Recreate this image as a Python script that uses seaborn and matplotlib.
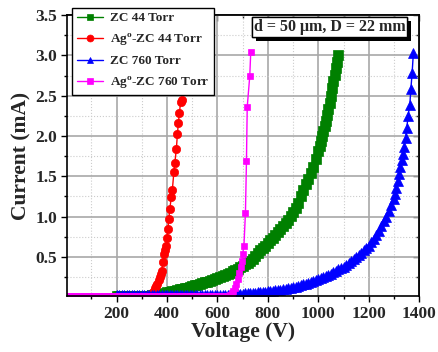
import numpy as np
import pandas as pd
import matplotlib
matplotlib.use("Agg")
import matplotlib.pyplot as plt
import matplotlib.patheffects as pe
from matplotlib.ticker import MultipleLocator
import seaborn as sns

# dados (tensão em V, corrente em mA)
v_zc44 = list(range(200, 1001, 10)) + [1005, 1010, 1015, 1020, 1025, 1030, 1035, 1040,
                                       1045, 1050, 1055, 1060, 1065, 1070, 1074, 1078]
i_zc44 = [0.02, 0.02, 0.02, 0.02, 0.02, 0.02, 0.02, 0.02, 0.02, 0.02, 0.02, 0.02, 0.02, 0.02, 0.025, 0.03,
          0.035, 0.04, 0.045, 0.05, 0.06, 0.067, 0.075, 0.082, 0.09, 0.097,
          0.105, 0.112, 0.12, 0.13, 0.14, 0.147, 0.155, 0.165, 0.175, 0.185,
          0.195, 0.205, 0.215, 0.228, 0.24, 0.252, 0.265, 0.277, 0.29, 0.305,
          0.32, 0.335, 0.35, 0.37, 0.39, 0.41, 0.43, 0.455, 0.48, 0.51,
          0.55, 0.58, 0.61, 0.64, 0.67, 0.705, 0.74, 0.775, 0.81, 0.845,
          0.88, 0.92, 0.96, 1.01, 1.06, 1.11, 1.17, 1.25, 1.33, 1.40,
          1.47, 1.54, 1.62, 1.72, 1.82,
          1.88, 1.94, 2.00, 2.06, 2.12, 2.19, 2.26, 2.33,
          2.41, 2.50, 2.59, 2.68, 2.76, 2.85, 2.92, 3.0]

v_ag44 = [300, 320, 335, 342, 347, 352, 357, 362, 367, 371, 375, 379, 384, 388, 392, 396, 401, 404, 407, 411,
          417, 421, 427, 431, 437, 441, 445, 449, 454, 458]
i_ag44 = [0.02, 0.02, 0.03, 0.05, 0.08, 0.11, 0.14, 0.17, 0.21, 0.25, 0.29, 0.33, 0.44, 0.54, 0.58, 0.63, 0.74, 0.85, 0.97, 1.10,
          1.24, 1.33, 1.55, 1.67, 1.84, 2.02, 2.16, 2.29, 2.42, 2.45]

v_zc760 = list(range(200, 1301, 10)) + [1305, 1310, 1315, 1321, 1325, 1330, 1335, 1340,
                                        1346, 1351, 1356, 1363, 1367, 1372, 1377]
i_zc760 = [0.025, 0.025, 0.025, 0.025, 0.025, 0.025, 0.025, 0.025, 0.025, 0.025, 0.025, 0.025,
           0.025, 0.025, 0.025, 0.025, 0.025, 0.025, 0.025, 0.025, 0.025, 0.025, 0.025, 0.025,
           0.025, 0.025, 0.025, 0.025, 0.025, 0.025, 0.025, 0.025, 0.025, 0.025, 0.025, 0.025,
           0.025, 0.025, 0.025, 0.025, 0.025, 0.025, 0.025, 0.025, 0.025, 0.03, 0.03, 0.035,
           0.04, 0.042, 0.045, 0.047, 0.05, 0.052, 0.055, 0.058, 0.06, 0.062,
           0.065, 0.07, 0.075, 0.078, 0.08, 0.085, 0.09, 0.095, 0.10, 0.105,
           0.11, 0.117, 0.125, 0.132, 0.14, 0.15, 0.16, 0.17, 0.18, 0.19,
           0.20, 0.212, 0.225, 0.237, 0.25, 0.262, 0.275, 0.292, 0.31, 0.327,
           0.345, 0.362, 0.38, 0.40, 0.42, 0.445, 0.47, 0.495, 0.52, 0.55,
           0.58, 0.61, 0.64, 0.68, 0.72, 0.77, 0.82, 0.88, 0.94, 1.00,
           1.07, 1.14, 1.22,
           1.28, 1.35, 1.44, 1.53, 1.61, 1.70, 1.78, 1.86,
           1.98, 2.10, 2.25, 2.39, 2.58, 2.78, 3.03]

v_ag760 = list(range(0, 641, 10)) + [650, 656, 662, 668, 674, 680, 686, 692, 697, 700,
                                     705, 711, 715, 718, 728, 732]
i_ag760 = [0.02, 0.02, 0.02, 0.02, 0.02, 0.02, 0.02, 0.02, 0.02, 0.02, 0.02, 0.02, 0.02,
           0.02, 0.02, 0.02, 0.02, 0.02, 0.02, 0.02, 0.02, 0.02, 0.02, 0.02, 0.02, 0.02,
           0.02, 0.02, 0.02, 0.02, 0.02, 0.02, 0.02, 0.02, 0.02, 0.02, 0.02, 0.02, 0.02,
           0.02, 0.02, 0.02, 0.02, 0.02, 0.02, 0.02, 0.02, 0.02, 0.02, 0.02, 0.02, 0.02,
           0.02, 0.02, 0.02, 0.02, 0.02, 0.02, 0.02, 0.02, 0.02, 0.02, 0.02, 0.02, 0.02,
           0.03, 0.05, 0.08, 0.12, 0.17, 0.23, 0.30, 0.37, 0.45, 0.54,
           0.64, 1.05, 1.69, 2.36, 2.74, 3.04]

sns.set_theme(style="ticks")
plt.rcParams['font.family'] = ['Liberation Serif', 'DejaVu Serif']
plt.rcParams['font.weight'] = 'bold'
plt.rcParams['mathtext.fontset'] = 'custom'
plt.rcParams['mathtext.rm'] = 'Liberation Serif:bold'
plt.rcParams['mathtext.bf'] = 'Liberation Serif:bold'

fig, ax = plt.subplots(figsize=(4.38, 3.52), dpi=100)
fig.subplots_adjust(left=0.154, right=0.957, bottom=0.159, top=0.957)

series = [
    ("ZC 44 Torr", v_zc44, i_zc44, "green", "s", 6.8),
    ("Ag$^{\\mathrm{o}}$-ZC 44 Torr", v_ag44, i_ag44, "red", "o", 6),
    ("ZC 760 Torr", v_zc760, i_zc760, "blue", "^", 7),
    ("Ag$^{\\mathrm{o}}$-ZC 760 Torr", v_ag760, i_ag760, "magenta", "s", 4.5),
]

for nome, v, i, cor, mk, ms in series:
    df = pd.DataFrame({'V': v, 'I': i})
    sns.lineplot(data=df, x='V', y='I', ax=ax, color=cor, marker=mk, markersize=ms,
                 markeredgecolor=cor, markeredgewidth=0.5, linewidth=1,
                 estimator=None, sort=False, label=nome)

ax.set_xlim(5, 1400)
ax.set_ylim(0.015, 3.5)
ax.xaxis.set_major_locator(MultipleLocator(200))
ax.xaxis.set_minor_locator(MultipleLocator(100))
ax.yaxis.set_major_locator(MultipleLocator(0.5))
ax.yaxis.set_minor_locator(MultipleLocator(0.25))
ax.grid(which='major', color='#a8a8a8', linewidth=1.2, linestyle='-')
ax.grid(which='minor', color='#cccccc', linewidth=0.8, linestyle=':')
ax.set_axisbelow(True)

ax.tick_params(which='major', direction='out', length=4, width=1, labelsize=12.5, color='black')
ax.tick_params(which='minor', direction='out', length=2.5, width=1, color='black')
for s in ax.spines.values():
    s.set_color('black')
    s.set_linewidth(1.2)

# ticks para dentro nos eixos de cima e da direita
sec_y = ax.secondary_yaxis('right')
sec_y.yaxis.set_major_locator(MultipleLocator(0.5))
sec_y.yaxis.set_minor_locator(MultipleLocator(0.25))
sec_y.tick_params(which='both', direction='in', labelright=False, width=1)
sec_y.tick_params(which='major', length=4)
sec_y.tick_params(which='minor', length=2.5)
sec_x = ax.secondary_xaxis('top')
sec_x.xaxis.set_major_locator(MultipleLocator(200))
sec_x.xaxis.set_minor_locator(MultipleLocator(100))
sec_x.tick_params(which='both', direction='in', labeltop=False, width=1)
sec_x.tick_params(which='major', length=4)
sec_x.tick_params(which='minor', length=2.5)

for lab in ax.get_xticklabels() + ax.get_yticklabels():
    lab.set_fontweight('bold')

ax.set_xlabel("Voltage (V)", fontsize=15.5, fontweight='bold', labelpad=0)
ax.set_ylabel("Current (mA)", fontsize=15.5, fontweight='bold', labelpad=3)

leg = ax.legend(loc='upper left', bbox_to_anchor=(0.013, 1.027), borderaxespad=0,
                fontsize=9.5, frameon=True, fancybox=False, handlelength=2.0,
                labelspacing=0.55, borderpad=0.35, handletextpad=0.5)
leg.get_frame().set_edgecolor('black')
leg.get_frame().set_linewidth(1.0)
leg.get_frame().set_alpha(1)
for t in leg.get_texts():
    t.set_fontweight('bold')
for h in leg.legend_handles:
    h.set_markersize(5)

txt = ax.text(0.745, 0.957, "d = 50 \u03bcm, D = 22 mm", transform=ax.transAxes,
              ha='center', va='center', fontsize=11.5, fontweight='bold', zorder=10,
              bbox=dict(boxstyle='square,pad=0.12', facecolor='white', edgecolor='black', linewidth=1))
txt.get_bbox_patch().set_path_effects([
    pe.withSimplePatchShadow(offset=(3, -3), shadow_rgbFace='black', alpha=1),
    pe.Normal()])

fig.savefig("out.png", dpi=100)
